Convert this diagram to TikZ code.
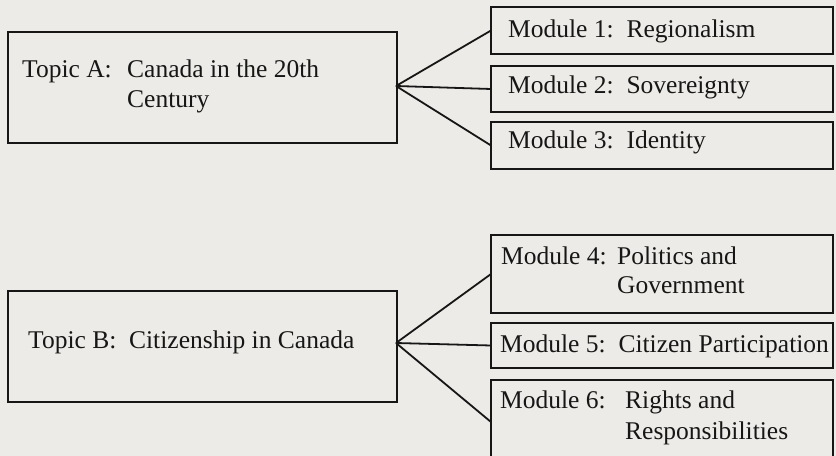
\documentclass[tikz,border=0pt]{standalone}
\usepackage{fontspec}
\setmainfont{Liberation Serif}
\definecolor{paper}{RGB}{236,235,231}
\definecolor{ink}{RGB}{22,22,22}
\begin{document}
\begin{tikzpicture}[x=1bp,y=-1bp,
  box/.style={draw=ink,line width=1.5bp,rectangle,inner sep=0pt,outer sep=0pt,anchor=north west},
  topicbox/.style={box,minimum width=389bp,minimum height=111bp},
  modbox/.style={box,minimum width=342bp},
  lbl/.style={anchor=base west,inner sep=0pt,text=ink,font=\fontsize{25.6}{30}\selectfont},
  link/.style={draw=ink,line width=1.8bp}]
\useasboundingbox (0,0) rectangle (836,456);
\fill[paper] (0,0) rectangle (836,456);
\clip (0,0) rectangle (836,456);

% Topic A and its modules
\node[topicbox] (ta) at (8,32) {};
\node[lbl] (ta1) at (22,78) {Topic A:};
\node[lbl] (ta2) at (127,78) {Canada in the 20th};
\node[lbl] (ta3) at (127,108) {Century};

\node[modbox,minimum height=47bp] (m1) at (491,7) {};
\node[lbl] (m1t) at (508,38) {Module 1:\ \ Regionalism};
\node[modbox,minimum height=46bp] (m2) at (491,66) {};
\node[lbl] (m2t) at (508,94) {Module 2:\ \ Sovereignty};
\node[modbox,minimum height=47bp] (m3) at (491,122) {};
\node[lbl] (m3t) at (508,149) {Module 3:\ \ Identity};

\coordinate (ja) at (396,86);
\draw[link] (ja) -- (m1.west);
\draw[link] (ja) -- (m2.west);
\draw[link] (ja) -- (m3.west);

% Topic B and its modules
\node[topicbox] (tb) at (8,291) {};
\node[lbl] (tb1) at (28,349) {Topic B:\ \ Citizenship in Canada};

\node[modbox,minimum height=78bp] (m4) at (491,235) {};
\node[lbl] (m4a) at (501,265) {Module 4:};
\node[lbl] (m4b) at (617,265) {Politics and};
\node[lbl] (m4c) at (617,294) {Government};
\node[modbox,minimum height=45bp] (m5) at (491,323) {};
\node[lbl] (m5t) at (500,353) {Module 5:\ \ Citizen Participation};
\node[modbox,minimum height=84bp] (m6) at (491,380) {};
\node[lbl] (m6a) at (500,408) {Module 6:};
\node[lbl] (m6b) at (625,408) {Rights and};
\node[lbl] (m6c) at (625,439) {Responsibilities};

\coordinate (jb) at (396,343);
\draw[link] (jb) -- (m4.west);
\draw[link] (jb) -- (m5.west);
\draw[link] (jb) -- (m6.west);
\end{tikzpicture}
\end{document}
